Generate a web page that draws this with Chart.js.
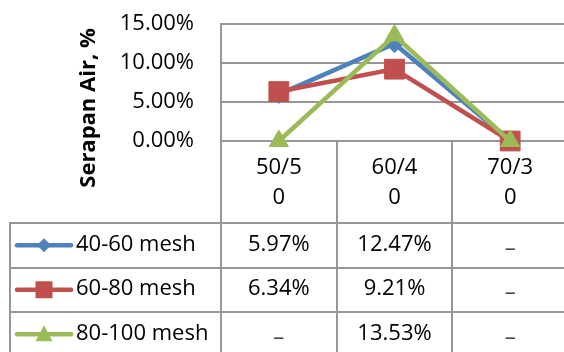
<!DOCTYPE html>
<html>
<head>
<meta charset="utf-8">
<script src="https://cdn.jsdelivr.net/npm/chart.js@4/dist/chart.umd.min.js"></script>
<style>
  html, body { margin: 0; padding: 0; background: #fff; overflow: hidden; width: 564px; height: 352px; }
  #wrap { position: absolute; left: 0; top: 0; width: 600px; height: 352px; }
</style>
</head>
<body>
<div id="wrap"><canvas id="c"></canvas></div>
<script>
// Komposisi (x) and water absorption per mesh size (fractions, shown as %)
const categories = ['50/50', '60/40', '70/30'];
const seriesNames = ['40-60 mesh', '60-80 mesh', '80-100 mesh'];
const mesh40_60 = [0.0597, 0.1247, 0];
const mesh60_80 = [0.0634, 0.0921, 0];
const mesh80_100 = [0, 0.1353, 0];
const yTicks = [0, 0.05, 0.10, 0.15];
const yTitle = 'Serapan Air, %';

const FONT = '"Open Sans", sans-serif';
const GRID = '#979797';
const COLORS = ['#4F81BD', '#C0504D', '#9BBB59'];
const STYLES = ['rectRot', 'rect', 'triangle'];
const seriesValues = [mesh40_60, mesh60_80, mesh80_100];

const pct = v => (v * 100).toFixed(2) + '%';
const cell = v => (v === 0 ? '–' : pct(v));

// two-line wrap of a category name inside its narrow column
const wrapLabel = s => [s.slice(0, 4), s.slice(4)];

function legendMarker(ctx, style, cx, cy, color) {
  ctx.save();
  ctx.fillStyle = color;
  ctx.beginPath();
  if (style === 'rectRot') {
    const r = 7;
    ctx.moveTo(cx, cy - r); ctx.lineTo(cx + r, cy); ctx.lineTo(cx, cy + r); ctx.lineTo(cx - r, cy);
  } else if (style === 'rect') {
    const h = 8.5;
    ctx.rect(cx - h, cy - h, 2 * h, 2 * h);
  } else {
    ctx.moveTo(cx, cy - 9); ctx.lineTo(cx + 8.5, cy + 7); ctx.lineTo(cx - 8.5, cy + 7);
  }
  ctx.closePath();
  ctx.fill();
  ctx.restore();
}

// Data table under the plot: category row grid, legend keys, values
const dataTable = {
  id: 'dataTable',
  afterDraw(chart) {
    const { ctx, chartArea: a, scales: { x } } = chart;
    const H = chart.height;
    const n = categories.length;
    const band = (a.right - a.left) / n;
    const top = x.bottom;
    const rowH = 44.5;
    const tableLeft = 10;

    ctx.save();
    ctx.strokeStyle = GRID;
    ctx.lineWidth = 2;
    ctx.beginPath();
    for (let k = 0; k <= n; k++) {
      const px = Math.round(a.left + k * band);
      ctx.moveTo(px, a.bottom); ctx.lineTo(px, H);
    }
    ctx.moveTo(tableLeft, top); ctx.lineTo(tableLeft, H);
    for (let r = 0; r <= seriesNames.length; r++) {
      const py = Math.round(top + r * rowH);
      ctx.moveTo(tableLeft - 1, py); ctx.lineTo(a.right, py);
    }
    ctx.stroke();

    ctx.font = '22px ' + FONT;
    ctx.fillStyle = '#000';
    ctx.textBaseline = 'middle';
    seriesNames.forEach((name, r) => {
      const cy = top + r * rowH + rowH / 2;
      // legend key
      ctx.strokeStyle = COLORS[r];
      ctx.lineWidth = 4.5;
      ctx.lineCap = 'round';
      ctx.beginPath(); ctx.moveTo(17, cy); ctx.lineTo(71, cy); ctx.stroke();
      legendMarker(ctx, STYLES[r], 44, cy, COLORS[r]);
      ctx.textAlign = 'left';
      ctx.fillStyle = '#000';
      ctx.fillText(name, 76, cy - 1);
      ctx.textAlign = 'center';
      seriesValues[r].forEach((v, i) => {
        const cx = x.getPixelForValue(i);
        if (v === 0) {
          ctx.fillStyle = '#444';
          ctx.fillText(cell(v), cx, cy + 3);
          ctx.fillStyle = '#000';
        } else {
          ctx.fillText(cell(v), cx, cy - 1);
        }
      });
    });

    // vertical axis title
    ctx.translate(95, 108);
    ctx.rotate(-Math.PI / 2);
    ctx.font = 'bold 22px ' + FONT;
    ctx.textAlign = 'center';
    ctx.textBaseline = 'alphabetic';
    ctx.fillStyle = '#000';
    ctx.fillText(yTitle, 0, 0);
    ctx.restore();
  }
};

const datasets = seriesNames.map((name, i) => ({
  label: name,
  data: seriesValues[i],
  borderColor: COLORS[i],
  backgroundColor: COLORS[i],
  borderWidth: 4.5,
  pointStyle: STYLES[i],
  pointRadius: [9, 14, 11][i],
  pointHoverRadius: [9, 14, 11][i],
  pointBorderWidth: 1,
  pointBackgroundColor: COLORS[i],
  pointBorderColor: COLORS[i],
  tension: 0,
  clip: false,
  order: 3 - i
}));

new Chart(document.getElementById('c'), {
  type: 'line',
  data: { labels: categories, datasets },
  options: {
    responsive: true,
    maintainAspectRatio: false,
    animation: false,
    events: [],
    layout: { padding: { left: 0, top: 24, right: 32, bottom: 129 } },
    plugins: { legend: { display: false }, tooltip: { enabled: false } },
    scales: {
      x: {
        offset: true,
        grid: { display: false, drawTicks: false },
        border: { display: false },
        ticks: {
          padding: 11.5,
          maxRotation: 0,
          autoSkip: false,
          color: '#000',
          font: { family: FONT, size: 22, lineHeight: 30 / 22 },
          callback: function (v) { return wrapLabel(this.getLabelForValue(v)); }
        },
        afterFit: s => { s.height = 82; s.paddingLeft = 0; s.paddingRight = 0; }
      },
      y: {
        min: 0,
        max: 0.15,
        afterBuildTicks: s => { s.ticks = yTicks.map(v => ({ value: v })); },
        grid: { color: GRID, lineWidth: 2, drawTicks: false },
        border: { display: true, color: GRID, width: 2 },
        ticks: {
          padding: 27,
          color: '#000',
          font: { family: FONT, size: 22 },
          callback: v => pct(v)
        },
        afterFit: s => { s.width = 221; s.paddingTop = 0; s.paddingBottom = 0; }
      }
    }
  },
  plugins: [dataTable]
});
</script>
</body>
</html>
